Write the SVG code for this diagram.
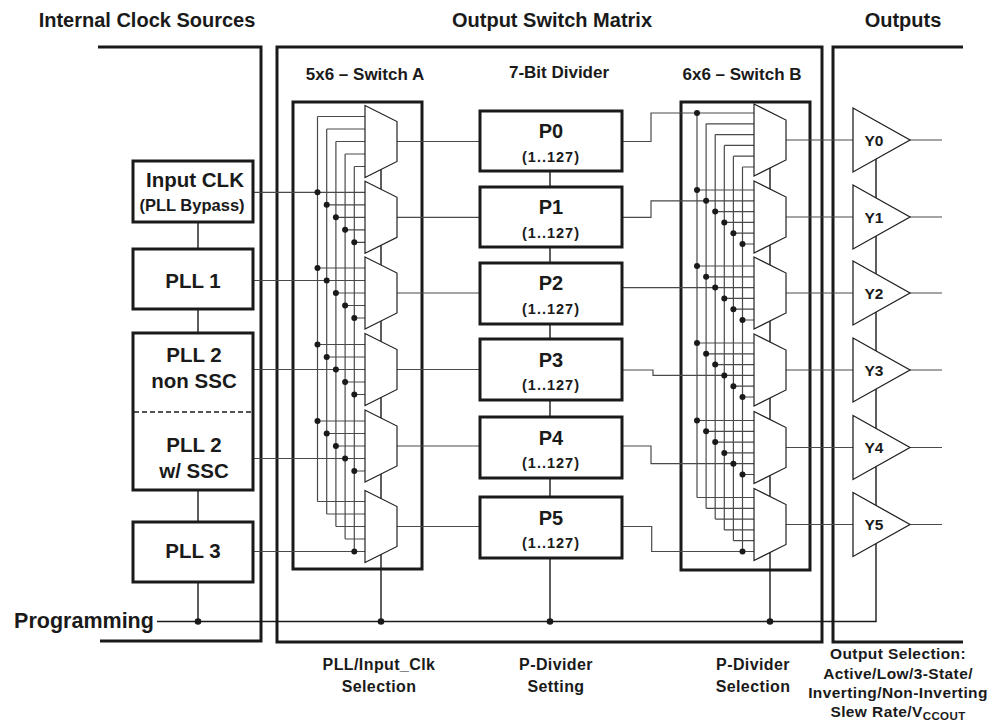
<svg xmlns="http://www.w3.org/2000/svg" width="995" height="723" viewBox="0 0 995 723">
<style>
text{font-family:"Liberation Sans",Arial,Helvetica,sans-serif;font-weight:bold;fill:#1a1a1a;text-anchor:middle}
.frame{fill:none;stroke:#1a1a1a;stroke-width:3}
.box{fill:#fff;stroke:#1a1a1a;stroke-width:3}
.sw{fill:none;stroke:#1a1a1a;stroke-width:3}
.w{fill:none;stroke:#4a4a4a;stroke-width:1.2}
.wk{fill:none;stroke:#1a1a1a;stroke-width:1.4}
.mux{fill:#fff;stroke:#222;stroke-width:1.2}
.tri{fill:#fff;stroke:#222;stroke-width:1.3}
.dot{fill:#1a1a1a}
.h{font-size:20px}
.sh{font-size:17px}
.big{font-size:20.5px}
.pn{font-size:20px}
.pr{font-size:14.5px;letter-spacing:1px}
.y{font-size:15.5px}
.lab{font-size:16px;letter-spacing:0.4px}
.lab2{font-size:15.5px;letter-spacing:0.4px}
</style>

<!-- headers -->
<text class="h" x="147" y="27">Internal Clock Sources</text>
<text class="h" x="552" y="27">Output Switch Matrix</text>
<text class="h" x="903" y="27">Outputs</text>
<text class="sh" x="365" y="80">5x6 – Switch A</text>
<text class="sh" x="559" y="78">7-Bit Divider</text>
<text class="sh" x="742" y="80">6x6 – Switch B</text>

<!-- frames -->
<g id="frames">
<path class="frame" d="M98,47H261V641H100"/>
<rect class="frame" x="277" y="47" width="545" height="595"/>
<path class="frame" d="M963,47H833V642H963"/>
<rect class="sw" x="293" y="102" width="129" height="467"/>
<rect class="sw" x="681" y="102" width="129" height="468"/>
</g>

<g id="connectors">
<path class="wk" d="M198,222V249M198,309V333M198,490V522M198,582V621.5"/>
<path class="wk" d="M157,621.5H876V150"/>
<path class="wk" d="M381,141.5V621.5M550,141V621.5M770,140V621.5"/>
<path class="w" d="M253,192.3H365M253,280.5H365M253,369.5H365M253,458.5H365M253,551.5H365"/>
<path class="w" d="M317.5,116.5V501.5M326.7,129V514M335.9,141.5V526.5M345.1,154V539M354.3,166.5V551.5"/>
<path class="w" d="M317.5,116.5H365M326.7,129H365M335.9,141.5H365M345.1,154H365M354.3,166.5H365
M326.7,204.8H365M335.9,217.3H365M345.1,229.8H365M354.3,242.3H365
M317.5,268H365M335.9,293H365M345.1,305.5H365M354.3,318H365
M317.5,344.5H365M326.7,357H365M345.1,382H365M354.3,394.5H365
M317.5,421H365M326.7,433.5H365M335.9,446H365M354.3,471H365
M317.5,501.5H365M326.7,514H365M335.9,526.5H365M345.1,539H365"/>
<path class="w" d="M397,141.5H480M397,217.3H480M397,293H480M397,369.5H480M397,446H480M397,526.5H480"/>
<path class="w" d="M622,141.5H651V113H754M622,217.3H651V200.8H754M622,287.6H754M622,370H653V375.4H754M622,446H651V463.7H754M622,526.5H651.7V551.5H754"/>
<path class="w" d="M697,113V497.5M706.1,123.8V508.3M715.2,134.6V519.1M724.3,145.4V529.9M733.4,156.2V540.7M742.5,167V551.5"/>
<path class="w" d="M706.1,123.8H754M715.2,134.6H754M724.3,145.4H754M733.4,156.2H754M742.5,167H754
M697,190H754M715.2,211.6H754M724.3,222.4H754M733.4,233.2H754M742.5,244H754
M697,266H754M706.1,276.8H754M724.3,298.4H754M733.4,309.2H754M742.5,320H754
M697,343H754M706.1,353.8H754M715.2,364.6H754M733.4,386.2H754M742.5,397H754
M697,420.5H754M706.1,431.3H754M715.2,442.1H754M724.3,452.9H754M742.5,474.5H754
M697,497.5H754M706.1,508.3H754M715.2,519.1H754M724.3,529.9H754M733.4,540.7H754"/>
<path class="w" d="M786,140H853M786,217H853M786,293H853M786,370H853M786,447.5H853M786,524.5H853"/>
<path class="w" d="M910,140H942M910,217H942M910,293H942M910,370H942M910,447.5H942M910,524.5H942"/>
</g>

<g id="dots">
<circle class="dot" cx="198" cy="621.5" r="3.3"/>
<circle class="dot" cx="381" cy="621.5" r="3.3"/>
<circle class="dot" cx="550" cy="621.5" r="3.3"/>
<circle class="dot" cx="770" cy="621.5" r="3.3"/>
<circle class="dot" cx="317.5" cy="192.3" r="3"/><circle class="dot" cx="326.7" cy="204.8" r="3"/><circle class="dot" cx="335.9" cy="217.3" r="3"/><circle class="dot" cx="345.1" cy="229.8" r="3"/><circle class="dot" cx="354.3" cy="242.3" r="3"/>
<circle class="dot" cx="317.5" cy="268" r="3"/><circle class="dot" cx="326.7" cy="280.5" r="3"/><circle class="dot" cx="335.9" cy="293" r="3"/><circle class="dot" cx="345.1" cy="305.5" r="3"/><circle class="dot" cx="354.3" cy="318" r="3"/>
<circle class="dot" cx="317.5" cy="344.5" r="3"/><circle class="dot" cx="326.7" cy="357" r="3"/><circle class="dot" cx="335.9" cy="369.5" r="3"/><circle class="dot" cx="345.1" cy="382" r="3"/><circle class="dot" cx="354.3" cy="394.5" r="3"/>
<circle class="dot" cx="317.5" cy="421" r="3"/><circle class="dot" cx="326.7" cy="433.5" r="3"/><circle class="dot" cx="335.9" cy="446" r="3"/><circle class="dot" cx="345.1" cy="458.5" r="3"/><circle class="dot" cx="354.3" cy="471" r="3"/>
<circle class="dot" cx="354.3" cy="551.5" r="3"/>
<circle class="dot" cx="697" cy="113" r="3"/>
<circle class="dot" cx="697" cy="190" r="3"/><circle class="dot" cx="706.1" cy="200.8" r="3"/><circle class="dot" cx="715.2" cy="211.6" r="3"/><circle class="dot" cx="724.3" cy="222.4" r="3"/><circle class="dot" cx="733.4" cy="233.2" r="3"/><circle class="dot" cx="742.5" cy="244" r="3"/>
<circle class="dot" cx="697" cy="266" r="3"/><circle class="dot" cx="706.1" cy="276.8" r="3"/><circle class="dot" cx="715.2" cy="287.6" r="3"/><circle class="dot" cx="724.3" cy="298.4" r="3"/><circle class="dot" cx="733.4" cy="309.2" r="3"/><circle class="dot" cx="742.5" cy="320" r="3"/>
<circle class="dot" cx="697" cy="343" r="3"/><circle class="dot" cx="706.1" cy="353.8" r="3"/><circle class="dot" cx="715.2" cy="364.6" r="3"/><circle class="dot" cx="724.3" cy="375.4" r="3"/><circle class="dot" cx="733.4" cy="386.2" r="3"/><circle class="dot" cx="742.5" cy="397" r="3"/>
<circle class="dot" cx="697" cy="420.5" r="3"/><circle class="dot" cx="706.1" cy="431.3" r="3"/><circle class="dot" cx="715.2" cy="442.1" r="3"/><circle class="dot" cx="724.3" cy="452.9" r="3"/><circle class="dot" cx="733.4" cy="463.7" r="3"/><circle class="dot" cx="742.5" cy="474.5" r="3"/>
<circle class="dot" cx="742.5" cy="551.5" r="3"/>
</g>

<g id="src-inputclk"><rect class="box" x="133" y="161" width="120" height="61"/>
<text class="big" x="195" y="187">Input CLK</text><text x="192" y="211" font-size="16.5">(PLL Bypass)</text></g>
<g id="src-pll1"><rect class="box" x="133" y="249" width="120" height="60"/><text class="big" x="193" y="288">PLL 1</text></g>
<g id="src-pll2"><rect class="box" x="133" y="333" width="120" height="157"/>
<line x1="134" y1="412" x2="252" y2="412" stroke="#1a1a1a" stroke-width="1.3" stroke-dasharray="5,3"/>
<text class="big" x="194" y="361.5">PLL 2</text><text class="big" x="194" y="388">non SSC</text>
<text class="big" x="194" y="451.5">PLL 2</text><text class="big" x="194" y="478">w/ SSC</text></g>
<g id="src-pll3"><rect class="box" x="133" y="522" width="120" height="60"/><text class="big" x="193" y="558">PLL 3</text></g>
<text x="84" y="628" font-size="21.5">Programming</text>

<g id="switchA">
<polygon class="mux" points="365,105.5 397,121.5 397,161.5 365,177.5"/>
<polygon class="mux" points="365,181.3 397,197.3 397,237.3 365,253.3"/>
<polygon class="mux" points="365,257 397,273 397,313 365,329"/>
<polygon class="mux" points="365,333.5 397,349.5 397,389.5 365,405.5"/>
<polygon class="mux" points="365,410 397,426 397,466 365,482"/>
<polygon class="mux" points="365,490.5 397,506.5 397,546.5 365,562.5"/>
</g>

<g id="dividers">
<rect class="box" x="480" y="111" width="142" height="60"/><text class="pn" x="551" y="138">P0</text><text class="pr" x="551" y="161.5">(1..127)</text>
<rect class="box" x="480" y="187" width="142" height="60"/><text class="pn" x="551" y="214">P1</text><text class="pr" x="551" y="237.5">(1..127)</text>
<rect class="box" x="480" y="263" width="142" height="61"/><text class="pn" x="551" y="290">P2</text><text class="pr" x="551" y="314">(1..127)</text>
<rect class="box" x="480" y="339" width="142" height="61"/><text class="pn" x="551" y="366.5">P3</text><text class="pr" x="551" y="390">(1..127)</text>
<rect class="box" x="480" y="417" width="142" height="61"/><text class="pn" x="551" y="444.5">P4</text><text class="pr" x="551" y="468">(1..127)</text>
<rect class="box" x="480" y="497" width="142" height="61"/><text class="pn" x="551" y="524.5">P5</text><text class="pr" x="551" y="548">(1..127)</text>
</g>

<g id="switchB">
<polygon class="mux" points="754,104 786,120 786,160 754,176"/>
<polygon class="mux" points="754,181 786,197 786,237 754,253"/>
<polygon class="mux" points="754,257 786,273 786,313 754,329"/>
<polygon class="mux" points="754,334 786,350 786,390 754,406"/>
<polygon class="mux" points="754,411.5 786,427.5 786,467.5 754,483.5"/>
<polygon class="mux" points="754,488.5 786,504.5 786,544.5 754,560.5"/>
</g>

<g id="outputs">
<polygon class="tri" points="853,108 910,140 853,172"/><text class="y" x="874" y="145.5">Y0</text>
<polygon class="tri" points="853,185 910,217 853,249"/><text class="y" x="874" y="222.5">Y1</text>
<polygon class="tri" points="853,261 910,293 853,325"/><text class="y" x="874" y="298.5">Y2</text>
<polygon class="tri" points="853,338 910,370 853,402"/><text class="y" x="874" y="375.5">Y3</text>
<polygon class="tri" points="853,415.5 910,447.5 853,479.5"/><text class="y" x="874" y="453">Y4</text>
<polygon class="tri" points="853,492.5 910,524.5 853,556.5"/><text class="y" x="874" y="530">Y5</text>
</g>

<g id="labels">
<text class="lab" x="379" y="670">PLL/Input_Clk</text><text class="lab" x="379" y="692">Selection</text>
<text class="lab" x="556" y="670">P-Divider</text><text class="lab" x="556" y="692">Setting</text>
<text class="lab" x="753" y="670">P-Divider</text><text class="lab" x="753" y="692">Selection</text>
<text class="lab2" x="898" y="659">Output Selection:</text>
<text class="lab2" x="898" y="679">Active/Low/3-State/</text>
<text class="lab2" x="898" y="698">Inverting/Non-Inverting</text>
<text class="lab2" x="898" y="716.5">Slew Rate/V<tspan font-size="11.5" dy="3">CCOUT</tspan></text>
</g>
</svg>
